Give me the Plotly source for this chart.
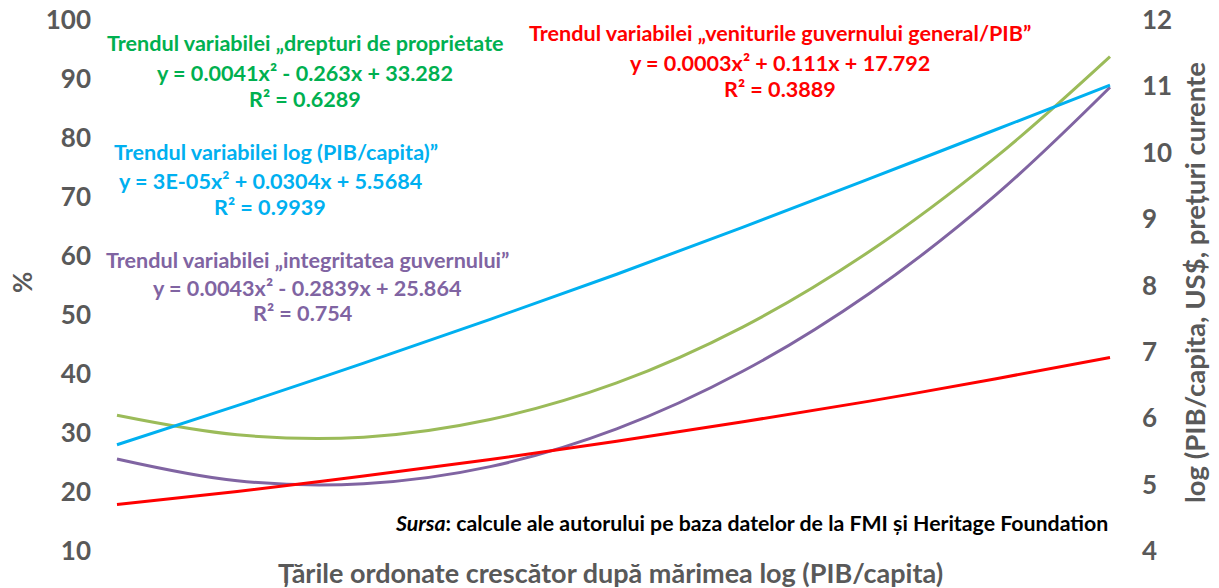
import plotly.graph_objects as go

# Countries ranked by log(GDP/capita) -- sample positions
rank = [1, 20, 40, 60, 80, 100, 120, 140, 158]
drepturi_proprietate = [33.0, 29.7, 29.3, 32.3, 38.5, 48.0, 60.8, 76.8, 93.8]
integritate_guvern = [25.6, 21.9, 21.4, 24.3, 30.7, 40.5, 53.7, 70.4, 88.6]
venituri_guvern = [17.9, 20.1, 22.7, 25.5, 28.6, 31.9, 35.4, 39.2, 42.8]
log_pib_capita = [5.60, 6.19, 6.83, 7.49, 8.17, 8.88, 9.61, 10.35, 11.02]

left_ticks = [10, 20, 30, 40, 50, 60, 70, 80, 90, 100]
right_ticks = [4, 5, 6, 7, 8, 9, 10, 11, 12]

FONT = "Lato"
GRAY = "#595959"

fig = go.Figure()
fig.add_trace(go.Scatter(x=rank, y=drepturi_proprietate, mode="lines",
                         line=dict(color="#9BBB59", width=3, shape="spline"),
                         name="drepturi de proprietate"))
fig.add_trace(go.Scatter(x=rank, y=integritate_guvern, mode="lines",
                         line=dict(color="#8064A2", width=3, shape="spline"),
                         name="integritatea guvernului"))
fig.add_trace(go.Scatter(x=rank, y=venituri_guvern, mode="lines",
                         line=dict(color="#FF0000", width=3, shape="spline"),
                         name="veniturile guvernului general/PIB"))
fig.add_trace(go.Scatter(x=rank, y=log_pib_capita, mode="lines", yaxis="y2",
                         line=dict(color="#00B0F0", width=3, shape="spline"),
                         name="log (PIB/capita)"))

def px_x(p):
    return (p - 92) / 1049

def px_y(p):
    return (551 - p) / 531

annots = []

def add(text, x, y, color, size=21.6, anchor="center", angle=0):
    annots.append(dict(text=text, x=px_x(x), y=px_y(y), xref="paper", yref="paper",
                       xanchor=anchor, yanchor="middle", showarrow=False,
                       textangle=angle,
                       font=dict(family=FONT, size=size, color=color, weight="bold")))

G = "#00B050"; R = "#FF0000"; B = "#00B0F0"; P = "#8064A2"
add("Trendul variabilei „drepturi de proprietate", 305, 43, G)
add("y = 0.0041x² - 0.263x + 33.282", 305, 73, G)
add("R² = 0.6289", 305, 99, G)

add("Trendul variabilei „veniturile guvernului general/PIB”", 780, 33, R)
add("y = 0.0003x² + 0.111x + 17.792", 780, 63, R)
add("R² = 0.3889", 780, 89, R)

add("Trendul variabilei log (PIB/capita)”", 276, 152, B)
add("y = 3E-05x² + 0.0304x + 5.5684", 270, 181, B)
add("R² = 0.9939", 270, 207, B)

add("Trendul variabilei „integritatea guvernului”", 307, 260, P)
add("y = 0.0043x² - 0.2839x + 25.864", 307, 288, P)
add("R² = 0.754", 302, 313, P)

add("<i>Sursa</i>: calcule ale autorului pe baza datelor de la FMI și Heritage Foundation",
    1110, 523, "#000000", size=21.3, anchor="right")

add("Țările ordonate crescător după mărimea log (PIB/capita)", 610, 572, GRAY, size=27)
add("%", 22, 283, GRAY, size=26, angle=-90)
add("log (PIB/capita, US$, prețuri curente", 1194, 283, GRAY, size=27.5, angle=-90)

fig.update_layout(
    width=1219, height=588,
    margin=dict(l=92, r=1219 - 1141, t=20, b=37, autoexpand=False),
    paper_bgcolor="white", plot_bgcolor="white",
    showlegend=False,
    xaxis=dict(range=[-2.95, 162.9], showticklabels=False, showgrid=False,
               zeroline=False, showline=False, ticks="", automargin=False),
    yaxis=dict(range=[10, 100], tickvals=left_ticks, showgrid=False, zeroline=False,
               showline=False, ticks="", automargin=False,
               tickfont=dict(family=FONT, size=26, color=GRAY, weight="bold")),
    yaxis2=dict(range=[4, 12], tickvals=right_ticks, overlaying="y", side="right",
                showgrid=False, zeroline=False, showline=False, ticks="", automargin=False,
                tickfont=dict(family=FONT, size=26, color=GRAY, weight="bold")),
    annotations=annots,
)

fig.write_html("out.html", config={"displayModeBar": False},
               post_script="document.body.style.margin='0';document.body.style.overflow='hidden';")
